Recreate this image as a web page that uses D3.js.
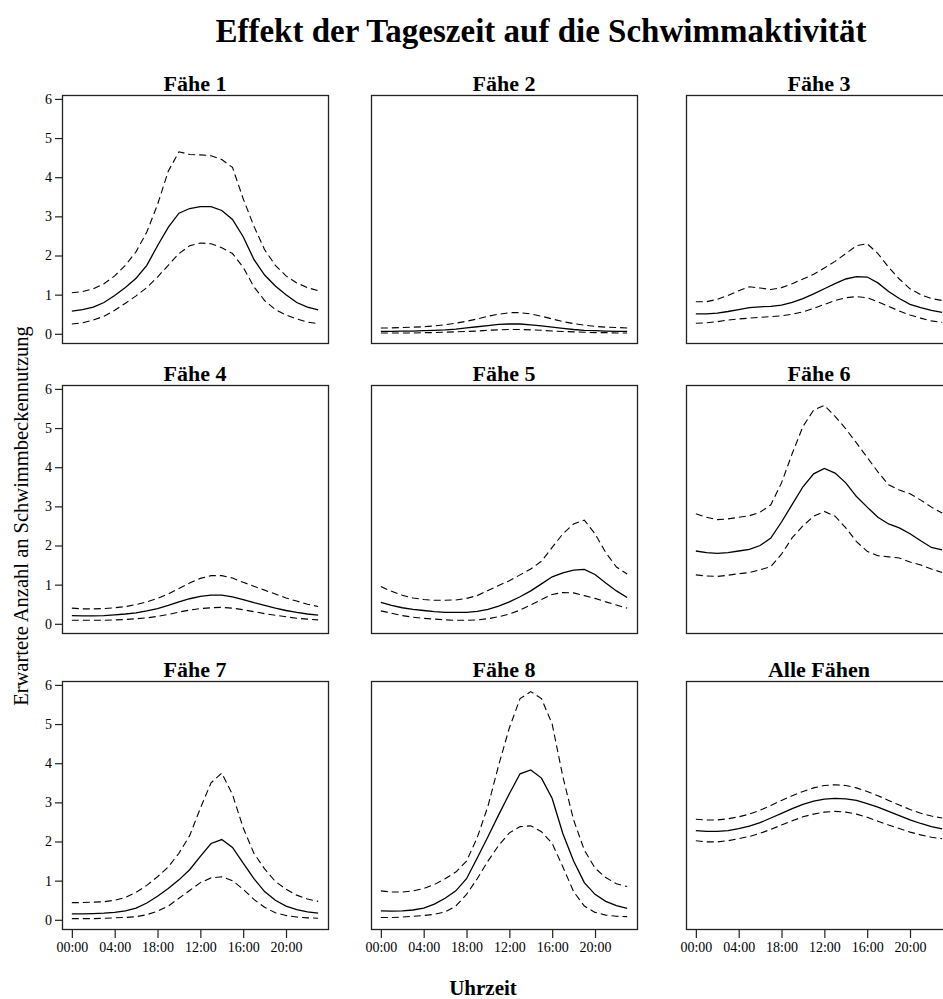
<!DOCTYPE html>
<html>
<head>
<meta charset="utf-8">
<script src="https://cdn.jsdelivr.net/npm/d3@7"></script>
<style>
  html, body { margin: 0; padding: 0; background: #fff; overflow: hidden; }
  svg text { font-family: "Liberation Serif", "Times New Roman", serif; fill: #000; }
</style>
</head>
<body>
<svg id="chart" width="943" height="999"></svg>
<script>
// ---------- data ----------
const hours = d3.range(0, 24);
const xTickHours = [0, 4, 8, 12, 16, 20];
const xTickLabels = ["00:00", "04:00", "18:00", "12:00", "16:00", "20:00"];
const yTicks = [0, 1, 2, 3, 4, 5, 6];
const panelTitles = ["Fähe 1", "Fähe 2", "Fähe 3", "Fähe 4", "Fähe 5", "Fähe 6", "Fähe 7", "Fähe 8", "Alle Fähen"];

const mean1 = [0.58,0.62,0.68,0.80,0.98,1.18,1.42,1.75,2.25,2.72,3.08,3.20,3.25,3.25,3.15,2.92,2.48,1.90,1.50,1.22,1.00,0.80,0.68,0.61];
const upper1 = [1.05,1.08,1.15,1.28,1.48,1.75,2.10,2.60,3.30,4.15,4.65,4.58,4.57,4.55,4.45,4.25,3.45,2.75,2.15,1.75,1.48,1.30,1.18,1.10];
const lower1 = [0.25,0.28,0.35,0.45,0.60,0.78,0.97,1.18,1.45,1.75,2.05,2.25,2.32,2.30,2.20,2.05,1.70,1.20,0.85,0.62,0.48,0.38,0.30,0.26];

const mean2 = [0.06,0.06,0.07,0.07,0.08,0.09,0.10,0.12,0.15,0.18,0.21,0.24,0.25,0.25,0.23,0.20,0.17,0.14,0.11,0.09,0.08,0.07,0.06,0.06];
const upper2 = [0.15,0.15,0.16,0.17,0.18,0.20,0.23,0.27,0.32,0.38,0.45,0.50,0.54,0.54,0.51,0.45,0.38,0.31,0.26,0.22,0.19,0.17,0.16,0.15];
const lower2 = [0.02,0.02,0.02,0.02,0.03,0.03,0.04,0.05,0.06,0.07,0.09,0.10,0.11,0.11,0.10,0.09,0.07,0.06,0.05,0.04,0.03,0.03,0.02,0.02];

const mean3 = [0.51,0.51,0.53,0.57,0.62,0.67,0.69,0.70,0.73,0.80,0.90,1.02,1.15,1.28,1.40,1.46,1.45,1.30,1.08,0.90,0.75,0.67,0.60,0.55];
const upper3 = [0.82,0.82,0.88,0.98,1.10,1.20,1.17,1.13,1.18,1.28,1.40,1.52,1.68,1.85,2.05,2.25,2.30,2.05,1.70,1.40,1.15,1.00,0.90,0.85];
const lower3 = [0.27,0.28,0.31,0.35,0.38,0.40,0.42,0.44,0.46,0.50,0.56,0.65,0.75,0.85,0.92,0.95,0.92,0.82,0.70,0.58,0.48,0.40,0.33,0.29];

const mean4 = [0.21,0.20,0.20,0.21,0.23,0.25,0.28,0.33,0.39,0.47,0.56,0.64,0.70,0.73,0.73,0.69,0.62,0.54,0.47,0.40,0.34,0.29,0.25,0.22];
const upper4 = [0.40,0.38,0.38,0.39,0.41,0.44,0.49,0.56,0.65,0.76,0.90,1.04,1.16,1.23,1.23,1.17,1.06,0.96,0.86,0.76,0.66,0.58,0.50,0.44];
const lower4 = [0.09,0.09,0.09,0.09,0.10,0.11,0.13,0.15,0.19,0.24,0.30,0.35,0.39,0.41,0.42,0.40,0.36,0.31,0.26,0.22,0.18,0.14,0.12,0.10];

const mean5 = [0.55,0.47,0.41,0.37,0.34,0.31,0.29,0.29,0.29,0.32,0.37,0.45,0.56,0.69,0.84,1.02,1.20,1.30,1.37,1.39,1.26,1.04,0.84,0.67];
const upper5 = [0.95,0.83,0.73,0.66,0.62,0.60,0.60,0.61,0.65,0.72,0.85,0.98,1.10,1.25,1.40,1.60,1.95,2.30,2.55,2.65,2.30,1.82,1.45,1.27];
const lower5 = [0.33,0.27,0.21,0.17,0.14,0.12,0.10,0.09,0.09,0.10,0.13,0.18,0.25,0.35,0.48,0.62,0.75,0.80,0.79,0.72,0.65,0.56,0.48,0.40];

const mean6 = [1.86,1.82,1.80,1.82,1.86,1.90,2.00,2.19,2.60,3.05,3.50,3.83,3.97,3.85,3.60,3.25,2.98,2.72,2.55,2.45,2.30,2.12,1.95,1.89];
const upper6 = [2.81,2.72,2.66,2.68,2.72,2.76,2.85,3.04,3.60,4.35,5.04,5.46,5.58,5.30,4.98,4.62,4.25,3.88,3.55,3.42,3.32,3.16,2.98,2.83];
const lower6 = [1.25,1.22,1.21,1.24,1.28,1.31,1.38,1.46,1.78,2.20,2.50,2.75,2.87,2.75,2.45,2.10,1.85,1.74,1.71,1.68,1.58,1.50,1.40,1.31];

const mean7 = [0.15,0.15,0.16,0.17,0.19,0.23,0.30,0.43,0.60,0.80,1.02,1.28,1.62,1.95,2.05,1.85,1.45,1.05,0.72,0.50,0.35,0.26,0.20,0.17];
const upper7 = [0.44,0.44,0.45,0.46,0.50,0.57,0.70,0.88,1.10,1.35,1.70,2.15,2.85,3.50,3.75,3.20,2.35,1.70,1.30,0.98,0.78,0.63,0.53,0.47];
const lower7 = [0.03,0.03,0.03,0.04,0.05,0.06,0.08,0.13,0.22,0.35,0.55,0.75,0.95,1.07,1.10,1.00,0.78,0.52,0.32,0.18,0.11,0.07,0.05,0.04];

const mean8 = [0.23,0.22,0.23,0.25,0.30,0.40,0.55,0.74,1.05,1.58,2.12,2.68,3.22,3.73,3.83,3.62,3.10,2.20,1.50,0.95,0.65,0.47,0.36,0.29];
const upper8 = [0.74,0.71,0.71,0.74,0.80,0.90,1.05,1.22,1.50,2.10,2.90,3.95,4.90,5.65,5.83,5.65,5.00,3.65,2.55,1.78,1.32,1.08,0.92,0.85];
const lower8 = [0.06,0.06,0.07,0.09,0.11,0.14,0.20,0.35,0.65,1.05,1.50,1.90,2.22,2.38,2.40,2.25,1.95,1.35,0.72,0.35,0.19,0.12,0.09,0.08];

const meanAll = [2.28,2.26,2.26,2.28,2.33,2.39,2.48,2.60,2.72,2.84,2.95,3.03,3.08,3.10,3.09,3.05,2.97,2.88,2.77,2.66,2.55,2.46,2.38,2.32];
const upperAll = [2.57,2.55,2.55,2.58,2.63,2.70,2.80,2.92,3.05,3.17,3.28,3.37,3.43,3.45,3.43,3.37,3.28,3.17,3.05,2.93,2.82,2.72,2.65,2.60];
const lowerAll = [2.02,1.99,1.99,2.02,2.07,2.13,2.21,2.31,2.42,2.53,2.63,2.70,2.75,2.77,2.75,2.70,2.62,2.52,2.42,2.33,2.24,2.17,2.11,2.07];

const means = [mean1, mean2, mean3, mean4, mean5, mean6, mean7, mean8, meanAll];
const uppers = [upper1, upper2, upper3, upper4, upper5, upper6, upper7, upper8, upperAll];
const lowers = [lower1, lower2, lower3, lower4, lower5, lower6, lower7, lower8, lowerAll];

// ---------- layout ----------
const svg = d3.select("#chart");
const colLeft = [62, 371, 686];
const rowTop = [95, 385, 681];
const pw = 266, ph = 248;
const serif = '"Liberation Serif", "Times New Roman", serif';

svg.append("text")
  .attr("x", 541).attr("y", 42)
  .attr("text-anchor", "middle")
  .style("font-size", "33px").style("font-weight", "bold")
  .text("Effekt der Tageszeit auf die Schwimmaktivität");

svg.append("text")
  .attr("transform", "translate(28,516) rotate(-90)")
  .attr("text-anchor", "middle")
  .style("font-size", "20.5px")
  .text("Erwartete Anzahl an Schwimmbeckennutzung");

svg.append("text")
  .attr("x", 483).attr("y", 995)
  .attr("text-anchor", "middle")
  .style("font-size", "21px").style("font-weight", "bold")
  .text("Uhrzeit");

panelTitles.forEach((title, i) => {
  const r = Math.floor(i / 3), c = i % 3;
  const left = colLeft[c], top = rowTop[r];
  const x = d3.scaleLinear().domain([-0.92, 23.92]).range([left, left + pw]);
  const y = d3.scaleLinear().domain([-0.235, 6.1]).range([top + ph, top]);
  const g = svg.append("g");

  g.append("text")
    .attr("x", left + pw / 2).attr("y", top - 4)
    .attr("text-anchor", "middle")
    .style("font-size", "22px").style("font-weight", "bold")
    .text(title);

  const line = d3.line().x((d, k) => x(hours[k])).y(d => y(d));

  g.append("path").datum(lowers[i]).attr("d", line)
    .attr("fill", "none").attr("stroke", "#000").attr("stroke-width", 1.1)
    .attr("stroke-dasharray", "7,4");
  g.append("path").datum(uppers[i]).attr("d", line)
    .attr("fill", "none").attr("stroke", "#000").attr("stroke-width", 1.1)
    .attr("stroke-dasharray", "7,4");
  g.append("path").datum(means[i]).attr("d", line)
    .attr("fill", "none").attr("stroke", "#000").attr("stroke-width", 1.3);

  g.append("rect")
    .attr("x", left + 0.5).attr("y", top + 0.5)
    .attr("width", pw).attr("height", ph)
    .attr("fill", "none").attr("stroke", "#222").attr("stroke-width", 1.3);

  if (c === 0) {
    const ax = g.append("g")
      .attr("transform", `translate(${left},0)`)
      .call(d3.axisLeft(y).tickValues(yTicks).tickFormat(d3.format("d")).tickSize(7).tickPadding(3));
    ax.select(".domain").remove();
    ax.selectAll("line").attr("stroke", "#222").attr("stroke-width", 1.2);
    ax.selectAll("text").style("font-size", "14px").style("font-family", serif).attr("fill", "#222");
  }
  if (r === 2) {
    const ax = g.append("g")
      .attr("transform", `translate(0,${top + ph + 1})`)
      .call(d3.axisBottom(x).tickValues(xTickHours).tickFormat((d, k) => xTickLabels[k]).tickSize(8).tickPadding(4));
    ax.select(".domain").remove();
    ax.selectAll("line").attr("stroke", "#222").attr("stroke-width", 1.2);
    ax.selectAll("text").style("font-size", "14px").style("font-family", serif).attr("fill", "#222");
  }
});
</script>
</body>
</html>
